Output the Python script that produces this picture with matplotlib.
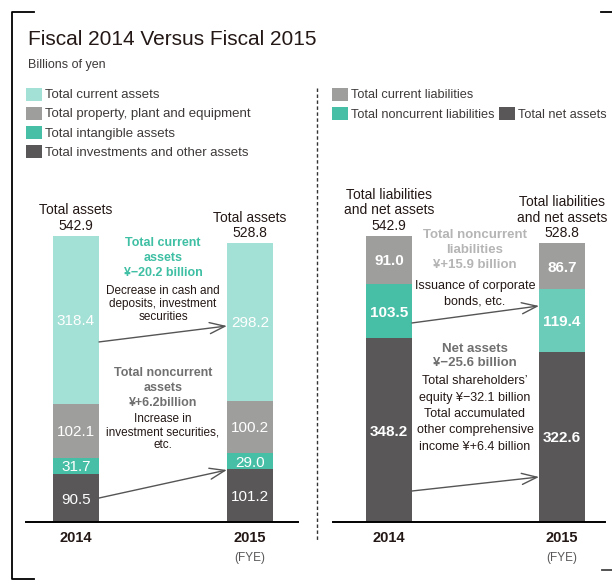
import matplotlib
matplotlib.use('Agg')
import matplotlib.pyplot as plt
from matplotlib.patches import Rectangle
from matplotlib.lines import Line2D
from matplotlib.transforms import Affine2D

W, H = 612, 587

years = ['2014', '2015']

# Assets (billions of yen), stacked bottom to top
investments = [90.5, 101.2]
intangible = [31.7, 29.0]
ppe = [102.1, 100.2]
current_assets = [318.4, 298.2]
total_assets = [542.9, 528.8]

# Liabilities and net assets (billions of yen), stacked bottom to top
net_assets = [348.2, 322.6]
noncurrent_liab = [103.5, 119.4]
current_liab = [91.0, 86.7]
total_liab_net = [542.9, 528.8]

asset_names = ['Total current assets', 'Total property, plant and equipment',
               'Total intangible assets', 'Total investments and other assets']
liab_names = ['Total current liabilities', 'Total noncurrent liabilities',
              'Total net assets']

LIGHT_TEAL = '#a3e0d5'
GRAY = '#9e9e9d'
TEAL = '#47bfa7'
TEAL_LIGHT = '#6bccb9'
DARK = '#595757'
INK = '#231815'
ARROW = '#555555'

SANS = ['Liberation Sans', 'DejaVu Sans']
plt.rcParams['font.family'] = SANS

BAR_W = 0.265
YMAX = 664

fig = plt.figure(figsize=(W / 100, H / 100), dpi=100)
# pixel coordinates, origin at top-left
px = Affine2D().scale(1 / W, -1 / H).translate(0, 1) + fig.transFigure


def make_axes(left, width, base, xlim):
    ax = fig.add_axes([left / W, (H - base) / H, width / W, 350 / H])
    ax.set_xlim(*xlim)
    ax.set_ylim(0, YMAX)
    for s in ['top', 'right', 'left']:
        ax.spines[s].set_visible(False)
    ax.spines['bottom'].set_linewidth(1.4)
    ax.set_yticks([])
    ax.set_xticks([0, 1])
    ax.set_xticklabels(years, fontweight='bold', fontsize=10.5, color=INK)
    ax.tick_params(axis='x', length=0, pad=6.5)
    ax.patch.set_alpha(0)
    ax.annotate('(FYE)', xy=(1, 0), xycoords=('data', 'axes fraction'),
                xytext=(0, -26), textcoords='offset points',
                ha='center', va='center', fontsize=8.5, color='#595757')
    return ax


def stack(ax, layers, colors, bold):
    bottom = [0.0, 0.0]
    for vals, cols in zip(layers, colors):
        ax.bar(range(2), vals, width=BAR_W, bottom=bottom, color=cols, linewidth=0)
        for i in range(2):
            ax.text(i, bottom[i] + vals[i] / 2, f'{vals[i]:.1f}', ha='center',
                    va='center_baseline', color='white', fontsize=11,
                    fontweight='bold' if bold else 'normal')
        bottom = [b + v for b, v in zip(bottom, vals)]


def totals(ax, title, vals):
    for i, v in enumerate(vals):
        ax.annotate(f'{title}\n{v:.1f}', xy=(i, v), xytext=(0, 2),
                    textcoords='offset points', ha='center', va='bottom',
                    fontsize=10, color=INK, linespacing=1.15)


def arrow(ax, y0, y1):
    ax.annotate('', xy=(1 - BAR_W / 2, y1), xytext=(BAR_W / 2, y0),
                arrowprops=dict(arrowstyle='->,head_length=1.1,head_width=0.4',
                                mutation_scale=10, lw=1, color=ARROW,
                                shrinkA=0, shrinkB=0))


def block(x, y0, step, lines, **kw):
    for k, s in enumerate(lines):
        fig.text(x, y0 + k * step, s, transform=px, ha='center',
                 va='center_baseline', **kw)


def legend_row(x, y, color, label, size):
    fig.add_artist(Rectangle((x, y - 6.5), 16, 13, transform=px, color=color, lw=0))
    fig.text(x + 19, y, label, transform=px, va='center_baseline',
             fontsize=size, color='#3e3a39')


# frame and divider
fig.add_artist(Line2D([34, 12, 12, 34], [12, 12, 579, 579], transform=px,
                      color='black', lw=1.3))
fig.add_artist(Line2D([601, 612], [12, 12], transform=px, color='black', lw=1.3))
fig.add_artist(Line2D([602, 612], [570, 570], transform=px, color='#444', lw=1.3))
fig.add_artist(Line2D([317, 317], [88, 540], transform=px, color='#333',
                      lw=1, linestyle=(0, (2.5, 1.8))))

fig.text(28, 45, 'Fiscal 2014 Versus Fiscal 2015', transform=px,
         fontsize=15, color=INK, va='baseline')
fig.text(28, 68, 'Billions of yen', transform=px, fontsize=9, color='#3e3a39',
         va='baseline')

for k, (name, col) in enumerate(zip(asset_names, [LIGHT_TEAL, GRAY, TEAL, DARK])):
    legend_row(26, 94 + 19 * k, col, name, 9.5)
legend_row(332, 94, GRAY, liab_names[0], 9.2)
legend_row(332, 113, TEAL, liab_names[1], 9.2)
legend_row(499, 113, DARK, liab_names[2], 9.2)

# assets panel
ax1 = make_axes(26, 272, 522, (-0.287, 1.276))
stack(ax1, [investments, intangible, ppe, current_assets],
      [DARK, TEAL, GRAY, LIGHT_TEAL], bold=False)
totals(ax1, 'Total assets', total_assets)
arrow(ax1, 341.6, 371.9)
arrow(ax1, 45.5, 98.7)

block(163, 242, 14.5, ['Total current', 'assets', '¥−20.2 billion'],
      fontsize=9, fontweight='bold', color='#3fbfa3')
block(163, 289, 13, ['Decrease in cash and', 'deposits, investment', 'securities'],
      fontsize=8.5, color=INK)
block(163, 372, 14.5, ['Total noncurrent', 'assets', '¥+6.2billion'],
      fontsize=9, fontweight='bold', color='#717071')
block(163, 418, 13, ['Increase in', 'investment securities,', 'etc.'],
      fontsize=8.5, color=INK)

# liabilities and net assets panel
ax2 = make_axes(333, 272, 522, (-0.324, 1.249))
stack(ax2, [net_assets, noncurrent_liab, current_liab],
      [DARK, [TEAL, TEAL_LIGHT], GRAY], bold=True)
totals(ax2, 'Total liabilities\nand net assets', total_liab_net)
arrow(ax2, 377.6, 409.9)
arrow(ax2, 58.8, 85.4)

block(475, 234, 14.7, ['Total noncurrent', 'liabilities', '¥+15.9 billion'],
      fontsize=9.5, fontweight='bold', color='#b5b5b6')
block(475, 284, 16, ['Issuance of corporate', 'bonds, etc.'],
      fontsize=9, color=INK)
block(475, 347, 14.2, ['Net assets', '¥−25.6 billion'],
      fontsize=9.5, fontweight='bold', color='#717071')
block(475, 380, 16.3, ['Total shareholders’', 'equity ¥−32.1 billion',
                       'Total accumulated', 'other comprehensive',
                       'income ¥+6.4 billion'],
      fontsize=9, color=INK)

fig.savefig('out.png', dpi=100)
